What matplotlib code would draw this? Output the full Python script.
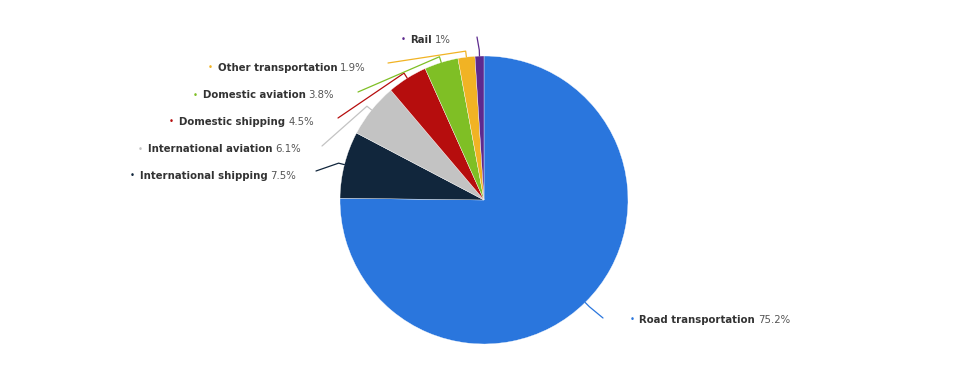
import matplotlib
matplotlib.use("Agg")
import matplotlib.pyplot as plt
import numpy as np

# === data ===
categories = ["Road transportation", "International shipping", "International aviation",
              "Domestic shipping", "Domestic aviation", "Other transportation", "Rail"]
shares = [75.2, 7.5, 6.1, 4.5, 3.8, 1.9, 1.0]
value_labels = ["75.2%", "7.5%", "6.1%", "4.5%", "3.8%", "1.9%", "1%"]
colors = ["#2a76dd", "#11263c", "#c3c3c3", "#b60d0d", "#7fbf25", "#f1b324", "#5d2a8e"]

W, H = 960, 377
fig = plt.figure(figsize=(W / 100, H / 100), dpi=100)
ax = fig.add_axes([0, 0, 1, 1])

def py(y):
    # pixel row -> data y
    return H - y

cx, cy, r = 484, py(200), 144
wedges, _ = ax.pie(shares, colors=colors, startangle=90, counterclock=False,
                   center=(cx, cy), radius=r, frame=True,
                   wedgeprops=dict(edgecolor="white", linewidth=0.25))
ax.set_xlim(0, W)
ax.set_ylim(0, H)
ax.axis("off")

# label layout: (anchor x, anchor y in pixels, side)
label_pos = {
    "Road transportation": (630, 320, "left"),
    "International shipping": (296, 176, "right"),
    "International aviation": (301, 149, "right"),
    "Domestic shipping": (314, 122, "right"),
    "Domestic aviation": (334, 95, "right"),
    "Other transportation": (366, 68, "right"),
    "Rail": (451, 40, "right"),
}
# where each connector ends (pixels)
line_end = {
    "Road transportation": (603, 318),
    "International shipping": (316, 171),
    "International aviation": (322, 146),
    "Domestic shipping": (338, 118),
    "Domestic aviation": (358, 92),
    "Other transportation": (388, 63),
    "Rail": (477, 37),
}

fig.canvas.draw()
rend = fig.canvas.get_renderer()
fs = 7.3
name_col, val_col = "#333333", "#555555"

for w, cat, val, col in zip(wedges, categories, value_labels, colors):
    mid = np.deg2rad((w.theta1 + w.theta2) / 2)
    p0 = (cx + r * np.cos(mid), cy + r * np.sin(mid))
    p1 = (cx + (r + 6) * np.cos(mid), cy + (r + 6) * np.sin(mid))
    ex, ey = line_end[cat]
    ax.plot([p0[0], p1[0], ex], [p0[1], p1[1], py(ey)], color=col, lw=0.9,
            solid_capstyle="round", zorder=1)

    x, y, side = label_pos[cat]
    y = py(y)
    if side == "right":
        t_val = ax.text(x, y, val, fontsize=fs, color=val_col, ha="right", va="center")
        wv = t_val.get_window_extent(rend).width
        t_name = ax.text(x - wv - 3, y, cat, fontsize=fs, color=name_col,
                         fontweight="bold", ha="right", va="center")
        wn = t_name.get_window_extent(rend).width
        ax.text(x - wv - 3 - wn - 5, y, "\u2022", fontsize=fs - 1, color=col,
                ha="right", va="center")
    else:
        ax.text(x, y, "\u2022", fontsize=fs - 1, color=col, ha="left", va="center")
        t_name = ax.text(x + 9, y, cat, fontsize=fs, color=name_col,
                         fontweight="bold", ha="left", va="center")
        wn = t_name.get_window_extent(rend).width
        ax.text(x + 9 + wn + 3, y, val, fontsize=fs, color=val_col,
                ha="left", va="center")

fig.savefig("out.png", dpi=100)
